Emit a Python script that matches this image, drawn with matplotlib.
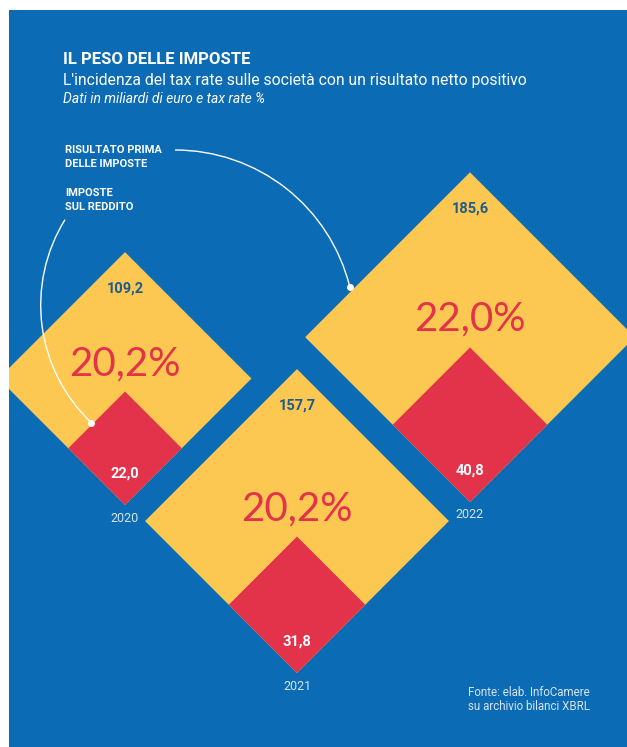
import numpy as np
import matplotlib.pyplot as plt
from matplotlib.patches import Polygon, Rectangle, Arc

# dati (miliardi di euro, tax rate %)
years = ["2020", "2021", "2022"]
pretax = [109.2, 157.7, 185.6]
taxes = [22.0, 31.8, 40.8]
tax_rate = [20.2, 20.2, 22.0]

# layout in pixel: vertice inferiore di ogni coppia di rombi
base_x = [125, 297, 470]
base_y = [505, 673, 502]
k = 12.1  # semidiagonale = k * sqrt(valore)

BLUE = "#0B6BB4"
YELLOW = "#FCC851"
RED = "#E3334A"
DARK = "#1D5C8C"
PALE = "#D5E5F3"

W, H = 627, 747
fig = plt.figure(figsize=(W / 100, H / 100), dpi=100)
ax = fig.add_axes([0, 0, 1, 1])
ax.set_xlim(0, W)
ax.set_ylim(H, 0)
ax.axis("off")
fig.patch.set_facecolor("white")

bg = Rectangle((9, 10), W - 9, H - 10, facecolor=BLUE, edgecolor="none")
ax.add_patch(bg)


def fmt(v, nd=1):
    return f"{v:.{nd}f}".replace(".", ",")


def diamond(x, yb, h, color):
    pts = [(x, yb), (x - h, yb - h), (x, yb - 2 * h), (x + h, yb - h)]
    p = Polygon(pts, closed=True, facecolor=color, edgecolor="none")
    ax.add_patch(p)
    p.set_clip_path(bg)
    return p


for yr, pt, tx, rate, x, yb in zip(years, pretax, taxes, tax_rate, base_x, base_y):
    hy = k * np.sqrt(pt)
    hr = k * np.sqrt(tx)
    diamond(x, yb, hy, YELLOW)
    diamond(x, yb, hr, RED)
    ax.text(x, yb - 2 * hy + 36, fmt(pt), ha="center", va="center",
            color=DARK, fontsize=10.5, fontweight="bold", family="Roboto")
    ax.text(x, yb - 2 * hr - 28, fmt(rate) + "%", ha="center", va="center",
            color=RED, fontsize=29, fontweight="normal", family="Lato")
    ax.text(x, yb - 31, fmt(tx), ha="center", va="center",
            color="white", fontsize=10.5, fontweight="bold", family="Roboto")
    ax.text(x, yb + 13, yr, ha="center", va="center",
            color=PALE, fontsize=9, family="Roboto")

# titoli
ax.text(63, 60, "IL PESO DELLE IMPOSTE", color="white", fontsize=12,
        fontweight="bold", family="Roboto", va="center")
ax.text(63, 80, "L'incidenza del tax rate sulle società con un risultato netto positivo",
        color="white", fontsize=11.3, family="Roboto", va="center")
ax.text(63, 99, "Dati in miliardi di euro e tax rate %", color="white",
        fontsize=10, style="italic", family="Roboto", va="center")

# legenda con archi
ax.text(65, 150, "RISULTATO PRIMA", color="white", fontsize=8,
        fontweight="bold", family="Roboto", va="center")
ax.text(65, 164, "DELLE IMPOSTE", color="white", fontsize=8,
        fontweight="bold", family="Roboto", va="center")
ax.text(65, 193, "IMPOSTE", color="white", fontsize=8,
        fontweight="bold", family="Roboto", va="center")
ax.text(65, 207, "SUL REDDITO", color="white", fontsize=8,
        fontweight="bold", family="Roboto", va="center")

ax.add_patch(Arc((175, 330), 360, 360, theta1=-90, theta2=-13.8,
                 color="white", lw=1))
ax.plot([350], [287], "o", color="white", ms=4)
ax.add_patch(Arc((202.7, 305), 324, 324, theta1=133.5, theta2=211.8,
                 color="white", lw=1))
ax.plot([90.7], [423], "o", color="white", ms=4)

# fonte
ax.text(468, 692, "Fonte: elab. InfoCamere", color=PALE, fontsize=8.3,
        family="Roboto", va="center")
ax.text(468, 706, "su archivio bilanci XBRL", color=PALE, fontsize=8.3,
        family="Roboto", va="center")

fig.savefig("out.png", dpi=100)
